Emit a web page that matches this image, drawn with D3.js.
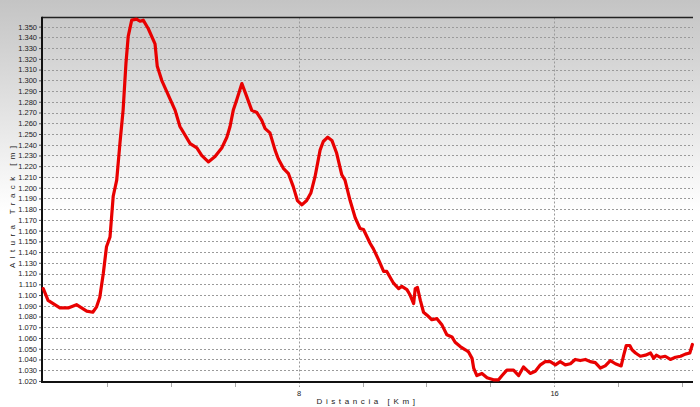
<!DOCTYPE html>
<html>
<head>
<meta charset="utf-8">
<script src="https://cdn.jsdelivr.net/npm/d3@7"></script>
<style>
  html, body { margin: 0; padding: 0; background: #fff; }
  svg { display: block; }
  text { font-family: Arial, "Liberation Sans", sans-serif; fill: #222; }
</style>
</head>
<body>
<svg id="chart" width="700" height="407"></svg>
<script>
// ---- data ----
const distKm = [0.00,0.15,0.31,0.52,0.78,1.04,1.20,1.36,1.55,1.67,1.77,1.88,1.98,2.09,2.19,2.30,2.40,2.50,2.59,2.66,2.77,2.92,3.03,3.13,3.29,3.50,3.57,3.71,3.92,4.13,4.28,4.60,4.81,4.96,5.17,5.38,5.59,5.75,5.85,5.95,6.06,6.22,6.37,6.53,6.69,6.84,6.95,7.10,7.26,7.36,7.52,7.68,7.83,7.96,8.10,8.25,8.38,8.51,8.67,8.77,8.91,9.04,9.19,9.35,9.45,9.61,9.77,9.92,10.03,10.24,10.34,10.50,10.66,10.76,10.97,11.13,11.23,11.39,11.49,11.60,11.65,11.72,11.81,11.91,12.03,12.17,12.33,12.49,12.64,12.80,12.90,13.06,13.22,13.32,13.43,13.48,13.58,13.74,13.90,14.10,14.26,14.37,14.52,14.73,14.89,15.04,15.25,15.41,15.57,15.72,15.88,16.04,16.19,16.35,16.51,16.66,16.82,16.98,17.13,17.29,17.45,17.60,17.76,17.92,18.10,18.18,18.26,18.37,18.44,18.55,18.70,18.86,19.02,19.12,19.20,19.33,19.48,19.64,19.80,19.96,20.11,20.25,20.33];
const elevM = [1106,1095,1092,1088,1088,1091,1088,1085,1084,1089,1098,1120,1145,1154,1192,1207,1241,1272,1316,1341,1356,1357,1355,1356,1348,1334,1313,1300,1286,1272,1257,1241,1237,1230,1224,1229,1237,1247,1257,1272,1282,1297,1285,1272,1270,1263,1255,1251,1235,1227,1218,1213,1201,1188,1184,1188,1195,1210,1235,1243,1247,1244,1232,1212,1207,1188,1172,1162,1161,1148,1143,1133,1122,1122,1111,1106,1108,1105,1100,1092,1106,1107,1095,1084,1081,1077,1078,1072,1063,1061,1056,1052,1049,1047,1041,1032,1025,1027,1023,1021,1021,1025,1030,1030,1025,1033,1027,1029,1035,1038,1038,1035,1038,1035,1036,1040,1039,1040,1038,1037,1032,1034,1039,1036,1034,1044,1053,1053,1049,1046,1043,1044,1046,1041,1044,1042,1043,1040,1042,1043,1045,1046,1054];
const yTickValues = d3.range(1020, 1351, 10);
const xLabelTicks = [8, 16];
const xMinorTicks = d3.range(0, 21, 2);
const xTitle = "Distancia [Km]";
const yTitle = "Altura Track [m]";

// ---- layout ----
const W = 700, H = 407;
const L = 42, R = 693, T = 17.5, B = 382;

const svg = d3.select("#chart");
const defs = svg.append("defs");
const grad = defs.append("linearGradient").attr("id", "bg")
  .attr("gradientUnits", "userSpaceOnUse")
  .attr("x1", 0).attr("y1", 0).attr("x2", 0).attr("y2", H);
grad.append("stop").attr("offset", 0).attr("stop-color", "#c4c4c4");
grad.append("stop").attr("offset", 0.52).attr("stop-color", "#ffffff");
grad.append("stop").attr("offset", 1).attr("stop-color", "#ffffff");

svg.append("rect").attr("width", W).attr("height", H).attr("fill", "url(#bg)");

const x = d3.scaleLinear().domain([-0.04, 20.35]).range([L, R]);
const y = d3.scaleLinear().domain([1019, 1358.5]).range([B, T]);

const loc = d3.formatLocale({decimal: ",", thousands: ".", grouping: [3], currency: ["", ""]});
const fmt = loc.format(",");

// horizontal gridlines
svg.append("g").selectAll("line").data(yTickValues).join("line")
  .attr("x1", L + 2).attr("x2", R)
  .attr("y1", d => Math.round(y(d)) + 0.5).attr("y2", d => Math.round(y(d)) + 0.5)
  .attr("stroke", "#9a9a9a").attr("stroke-width", 1).attr("stroke-dasharray", "2,2");

// vertical gridlines
svg.append("g").selectAll("line").data(xLabelTicks).join("line")
  .attr("x1", d => Math.round(x(d)) + 0.5).attr("x2", d => Math.round(x(d)) + 0.5)
  .attr("y1", T).attr("y2", B + 5)
  .attr("stroke", "#9a9a9a").attr("stroke-width", 1).attr("stroke-dasharray", "2,2");

// minor x ticks
svg.append("g").selectAll("line").data(xMinorTicks.filter(d => !xLabelTicks.includes(d) && d > 0)).join("line")
  .attr("x1", d => Math.round(x(d)) + 0.5).attr("x2", d => Math.round(x(d)) + 0.5)
  .attr("y1", B + 1).attr("y2", B + 5)
  .attr("stroke", "#aaaaaa").attr("stroke-width", 1);

// y axis with d3 axis
const yAxis = d3.axisLeft(y).tickValues(yTickValues).tickFormat(fmt).tickSize(3).tickPadding(2);
const gy = svg.append("g").attr("transform", `translate(${L},0)`).call(yAxis);
gy.select(".domain").remove();
gy.selectAll(".tick line").attr("stroke", "#555");
gy.selectAll(".tick text").attr("font-size", "7.5px").attr("fill", "#222")
  .style("font-family", "Arial, 'Liberation Sans', sans-serif");

// x axis labels
const xAxis = d3.axisBottom(x).tickValues(xLabelTicks).tickFormat(d3.format("d")).tickSize(0).tickPadding(9);
const gx = svg.append("g").attr("transform", `translate(0,${B})`).call(xAxis);
gx.select(".domain").remove();
gx.selectAll(".tick text").attr("font-size", "7.5px").attr("fill", "#222")
  .style("font-family", "Arial, 'Liberation Sans', sans-serif");

// frame
svg.append("line").attr("x1", L).attr("x2", R).attr("y1", T).attr("y2", T)
  .attr("stroke", "#222").attr("stroke-width", 1.5);
svg.append("line").attr("x1", L).attr("x2", L).attr("y1", T - 0.75).attr("y2", B + 1)
  .attr("stroke", "#111").attr("stroke-width", 2);
svg.append("line").attr("x1", L - 1).attr("x2", R).attr("y1", B).attr("y2", B)
  .attr("stroke", "#111").attr("stroke-width", 2);

// elevation line
const pts = distKm.map((d, i) => [d, elevM[i]]);
const line = d3.line().x(d => x(d[0])).y(d => y(d[1]));
svg.append("path").datum(pts).attr("d", line)
  .attr("fill", "none").attr("stroke", "#e80000").attr("stroke-width", 3.2)
  .attr("stroke-linejoin", "round").attr("stroke-linecap", "round");

// axis titles
svg.append("text").attr("x", (L + R) / 2).attr("y", 404)
  .attr("text-anchor", "middle").attr("font-size", "8px")
  .style("letter-spacing", "3.6px").text(xTitle);
svg.append("text").attr("transform", `translate(15,${(T + B) / 2 + 5}) rotate(-90)`)
  .attr("text-anchor", "middle").attr("font-size", "8px")
  .style("letter-spacing", "4.4px").text(yTitle);
</script>
</body>
</html>
